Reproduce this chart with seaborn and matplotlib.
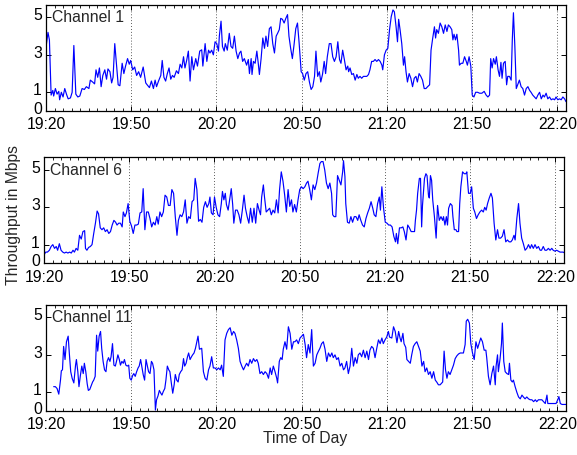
import numpy as np
import pandas as pd
import matplotlib
matplotlib.use("Agg")
import matplotlib.pyplot as plt
from matplotlib.ticker import MultipleLocator
from matplotlib.transforms import ScaledTranslation
import seaborn as sns

# Minutes after 19:20 and measured throughput (Mbps) for each channel
t1 = [0.0, 0.7, 1.2, 1.8, 2.4, 2.7, 3.3, 3.9, 4.5, 4.8, 5.4, 6.0, 6.6, 7.2, 7.8, 8.6, 9.2, 9.8, 10.5, 11.2,
      11.9, 12.7, 13.5, 14.2, 15.1, 15.6, 16.4, 17.1, 17.6, 18.2, 18.8, 19.4, 20.0, 20.7, 21.3, 21.8, 22.5, 23.1,
      23.6, 24.2, 24.8, 25.4, 26.0, 26.8, 27.4, 28.0, 28.7, 29.3, 29.8, 30.5, 31.2, 31.9, 32.6, 33.3, 34.2, 35.1,
      35.6, 36.4, 37.1, 37.8, 38.4, 38.9, 39.6, 40.4, 40.9, 41.5, 42.1, 42.7, 43.3, 43.9, 44.5, 45.1, 45.9, 46.6,
      47.2, 47.8, 48.4, 48.9, 49.5, 50.1, 50.7, 51.3, 51.9, 52.7, 53.3, 54.1,
      54.8, 55.2, 56.0, 56.6, 57.2, 57.7, 58.3, 58.9, 59.5, 60.1, 60.7, 61.0, 61.6, 62.1, 62.7, 63.1, 63.8,
      64.5, 65.1, 65.7, 66.3, 66.9, 67.5, 68.1, 68.6, 69.2, 69.8, 70.6, 71.2, 71.6, 72.2, 72.5, 73.0, 73.6, 74.2,
      74.7, 75.1, 75.7, 76.3, 76.9, 77.4, 78.0, 78.6, 79.2, 79.8, 80.4, 81.0, 81.5, 82.1, 82.6, 83.2, 83.8, 84.4,
      85.0, 85.5, 86.1, 86.7, 87.3, 87.9, 88.5, 89.1, 89.8, 90.3, 90.9, 91.5, 92.1, 92.7, 93.3, 93.9, 94.5, 95.0,
      95.6, 96.2, 96.7, 97.3, 97.9, 98.4, 99.0, 99.7, 100.3, 100.9, 101.5, 102.1, 102.7, 103.3, 103.8, 104.4,
      105.0, 105.6, 106.2, 106.5, 107.0, 107.6, 108.2, 108.8, 109.4, 109.9, 110.5, 111.1, 111.7, 112.9, 113.5,
      114.0, 114.6, 115.2, 115.8, 116.4, 117.0, 117.6, 118.2, 118.5, 119.1, 119.7, 120.3, 120.9,
      121.5, 122.1, 122.6, 123.2, 123.7, 124.1, 124.6, 125.2, 125.8, 126.2, 126.7, 127.2, 127.8, 128.4, 129.0,
      129.6, 130.2, 130.7, 131.3, 131.9, 132.5, 133.1, 133.7, 134.3, 135.0, 135.5, 136.1, 136.7, 137.1, 137.5,
      138.1, 138.7, 139.3, 139.9, 140.5, 141.1, 141.6, 142.2, 142.8, 143.2, 143.6, 144.1, 144.6, 145.2, 145.5,
      146.1, 146.7, 147.3, 147.9, 148.3, 148.9, 149.5, 150.0, 150.6, 151.2, 151.9, 152.6, 153.4, 154.2, 154.9,
      155.5, 156.1, 156.5, 157.0, 157.5, 158.1, 158.5, 159.1, 159.6, 160.1, 160.5, 161.0, 161.6, 162.1, 162.5,
      163.1, 163.7, 164.1, 164.5, 165.0, 165.5, 166.0, 166.6, 167.2, 167.8, 168.4, 169.0, 169.6, 170.2, 170.7,
      171.3, 171.9, 172.5, 173.1, 173.7, 174.3, 174.9, 175.4, 176.0, 176.6, 177.2, 177.8, 178.4, 179.0, 179.5,
      180.1, 180.7, 181.3, 181.9, 182.5, 183.0]
v1 = [3.4, 4.2, 3.8, 0.85, 1.1, 0.8, 1.2, 0.9, 1.05, 0.6, 1.0, 0.75, 1.2, 0.9, 0.65, 0.7, 1.0, 3.5, 0.9, 0.75,
      0.8, 1.2, 1.15, 1.3, 1.2, 1.65, 1.55, 1.45, 2.2, 1.8, 2.3, 1.3, 1.9, 2.2, 1.7, 2.25, 2.1, 1.5,
      1.8, 3.6, 2.5, 1.4, 1.35, 2.55, 2.0, 2.4, 2.8, 2.5, 2.7, 2.2, 2.35, 1.9, 2.1, 1.8, 2.35, 1.5,
      1.4, 1.25, 1.6, 1.2, 1.65, 1.3, 1.6, 1.9, 2.7, 1.8, 1.6, 2.0, 2.3, 1.7, 1.9, 1.8, 2.15, 2.0,
      2.5, 2.3, 2.9, 2.3, 2.7, 3.2, 1.6, 2.9, 2.2, 2.8, 2.4, 3.2,
      3.27, 2.4, 3.6, 2.65, 3.25, 3.1, 3.25, 3.0, 3.7, 3.6, 3.2, 4.0, 4.8, 3.45, 3.2, 3.6, 3.25,
      4.15, 3.45, 3.35, 4.0, 3.2, 2.8, 3.1, 3.2, 2.65, 2.8, 2.45, 2.75, 2.0, 2.8, 1.95, 2.65, 2.55, 3.2,
      2.55, 1.95, 2.8, 3.9, 3.35, 4.0, 3.45, 4.4, 4.5, 3.6, 3.1, 4.0, 4.15, 4.35, 4.95, 4.9, 4.7, 4.95,
      5.15, 4.0, 3.35, 2.8, 3.55, 4.4, 4.7, 3.6, 2.1, 2.0, 1.65, 2.0, 2.1, 1.55, 1.15, 1.3, 1.85, 3.2,
      1.85, 2.1, 1.55, 1.95, 2.65, 2.0, 2.9, 3.6, 3.6, 2.9, 2.65, 2.9, 3.7, 2.75, 2.55, 3.25,
      2.75, 2.2, 2.4, 2.1, 2.3, 1.95, 2.0, 1.65, 1.95, 1.75, 1.85, 1.75, 1.85, 1.85, 1.95,
      2.2, 2.65, 2.65, 2.75, 2.65, 2.75, 2.65, 2.45, 2.2, 3.0, 3.25, 3.35, 4.35,
      5.05, 5.4, 5.3, 4.5, 3.7, 4.9, 4.35, 3.6, 2.45, 2.9, 2.1, 1.55, 2.0, 1.75, 1.3,
      1.75, 1.85, 1.55, 2.0, 1.85, 1.65, 1.2, 1.2, 1.3, 1.4, 3.25, 3.9, 4.5, 3.9, 4.35,
      4.15, 4.7, 4.5, 4.15, 4.6, 4.25, 4.6, 4.5, 4.35, 3.8, 4.1, 3.8, 4.1, 3.25, 2.45,
      2.55, 2.55, 2.9, 2.65, 2.45, 2.9, 2.4, 0.85, 0.75, 1.0, 1.0, 0.95, 0.95, 1.05, 0.85,
      0.75, 0.85, 2.8, 2.3, 2.8, 2.5, 2.9, 2.2, 1.85, 2.6, 1.75, 2.55, 2.65, 1.4, 1.85,
      1.85, 1.65, 3.8, 5.25, 3.45, 1.2, 1.4, 1.65, 1.3, 1.2, 0.85, 1.2, 1.3, 1.1, 1.0,
      0.85, 0.75, 0.65, 0.85, 1.0, 0.65, 0.85, 0.75, 0.95, 0.65, 0.75, 0.6, 0.65, 0.6, 0.75,
      0.6, 0.65, 0.6, 0.75, 0.65, 0.5]

t6 = [0.0, 0.6, 1.2, 1.9, 2.5, 3.1, 3.7, 4.3, 4.8, 5.4, 6.0, 6.6, 7.2, 7.8, 8.4, 9.0, 9.6, 10.2, 10.7, 11.3,
      11.9, 12.5, 13.1, 13.7, 14.3, 14.6, 15.1, 15.7, 16.3, 16.9, 17.5, 18.1, 18.7, 19.2, 19.8, 20.4, 21.0, 21.6,
      22.2, 22.8, 23.4, 24.0, 24.6, 25.2, 25.7, 26.3, 26.9, 27.5, 27.9, 28.5, 29.0, 29.6, 30.2, 30.8, 31.4, 32.0,
      32.6, 33.2, 33.8, 34.4, 34.9, 35.5, 36.1, 36.7, 37.3, 37.9, 38.5, 39.1, 39.7, 40.2, 40.8, 41.4, 42.0, 42.6,
      43.2, 43.8, 44.4, 45.0, 45.6, 46.2, 46.8, 47.3, 47.9, 48.5, 49.1, 49.7, 50.3, 50.9, 51.5, 52.1, 52.7, 53.2,
      53.8, 54.4, 55.0,
      55.6, 56.2, 56.8, 57.4, 58.0, 58.4, 58.9, 59.5, 60.0, 60.6, 61.2, 61.8, 62.4, 62.8, 63.3, 63.8, 64.2, 64.8,
      65.4, 65.9, 66.4, 66.8, 67.4, 68.0, 68.6, 69.2, 69.8, 70.4, 70.9, 71.5, 72.1, 72.7, 73.3, 73.9, 74.5, 75.1,
      75.7, 76.2, 76.6, 77.2, 77.6, 78.2, 78.8, 79.4, 80.0, 80.6, 81.2, 81.8, 82.4, 82.9, 83.5, 84.1, 84.7, 85.3,
      85.9, 86.5, 87.1, 87.6, 88.2, 88.8, 89.4, 90.0, 90.6, 91.2, 91.8, 92.4, 92.9, 93.5, 94.1, 94.7, 95.3, 95.9,
      96.5, 97.1, 97.6, 98.2, 98.8, 99.4, 100.0, 100.6, 101.2, 101.6, 102.1, 102.7, 103.3, 103.9, 104.5, 105.1,
      105.4, 105.9, 106.2, 106.8, 107.4, 108.0, 108.6, 109.2, 109.8, 110.4, 110.9, 111.5, 112.1, 112.7, 113.3,
      113.9, 114.5, 115.1, 115.7, 116.2, 116.8, 117.4, 118.0, 118.4, 118.9, 119.5, 120.1, 120.7, 121.3, 121.9,
      122.5, 123.1, 123.7, 124.0, 124.5, 125.1, 125.7, 126.3, 126.8, 127.4, 128.0, 128.6, 129.2, 129.8, 130.4,
      130.7, 131.1, 131.5, 132.1, 132.5, 132.9, 133.2, 133.9, 134.4, 134.8, 135.3, 135.6, 136.0, 136.4, 136.8,
      137.4, 138.0, 138.5, 139.1, 139.7, 140.3, 140.6, 141.1, 141.6, 142.0, 142.4, 143.0, 143.6, 143.9, 144.4,
      145.0, 145.3, 145.9, 146.3, 146.7, 147.3, 147.9, 148.5, 148.8, 149.4, 150.0, 150.5, 151.1, 151.6, 152.2,
      152.8, 153.4, 154.0, 154.6, 155.1, 155.6, 156.1, 156.7, 157.3, 157.8, 158.4, 159.0, 159.6, 160.1, 160.7,
      161.3, 161.9, 162.5, 163.1, 163.7, 164.3, 164.8, 165.4, 165.8, 166.4, 167.0, 167.5, 168.1, 168.7, 169.3,
      169.9, 170.5, 171.1, 171.6, 172.2, 172.8, 173.4, 174.0, 174.6, 175.1, 175.7, 176.3, 176.9, 177.5, 178.1,
      178.7, 179.2, 179.8, 180.4, 181.0, 181.6, 182.2, 182.7, 183.3]
v6 = [0.45, 0.6, 0.6, 0.7, 0.9, 1.0, 0.8, 0.9, 0.7, 1.05, 0.7, 0.6, 0.55, 0.6, 0.55, 0.6, 0.55, 0.7, 0.6, 0.8,
      0.7, 1.5, 1.3, 1.7, 1.75, 0.8, 0.7, 0.85, 0.9, 1.0, 1.6, 2.15, 2.8, 2.65, 1.9, 1.8, 1.9, 1.7,
      1.8, 1.6, 1.7, 2.05, 2.3, 2.2, 2.05, 2.15, 2.15, 1.95, 2.75, 2.5, 2.7, 3.2, 2.25, 2.0, 1.6, 2.05,
      2.05, 2.1, 2.7, 2.75, 4.0, 1.8, 2.75, 2.75, 2.4, 1.95, 2.2, 2.05, 2.5, 2.1, 2.75, 2.5, 2.75, 3.65,
      3.55, 3.1, 3.1, 3.95, 3.75, 2.5, 1.5, 2.3, 2.6, 2.5, 2.75, 3.4, 2.15, 2.5, 2.4, 3.3, 3.4, 4.55,
      3.95, 2.25, 2.35,
      2.2, 3.0, 3.3, 3.0, 3.2, 3.55, 2.7, 2.6, 3.55, 3.0, 2.6, 2.5, 3.2, 3.85, 3.4, 3.75, 3.15, 2.85,
      3.5, 4.0, 3.15, 2.15, 2.85, 2.85, 2.6, 2.15, 2.85, 3.65, 2.95, 2.5, 2.15, 2.95, 2.2, 2.95, 2.15, 3.2,
      2.85, 2.6, 3.55, 4.2, 3.55, 2.75, 2.85, 2.95, 2.6, 2.85, 2.7, 3.4, 2.7, 3.95, 4.9, 4.4, 3.65, 2.75,
      3.95, 3.05, 3.4, 2.75, 3.15, 2.75, 3.4, 3.95, 4.1, 4.0, 4.1, 4.3, 4.4, 3.95, 3.4, 4.2, 3.95, 4.3,
      4.85, 5.35, 5.45, 5.45, 5.0, 4.3, 4.0, 4.3, 3.75, 2.6, 2.5, 2.5, 4.7, 4.45, 4.2, 4.9,
      5.5, 4.65, 3.2, 2.2, 2.15, 2.5, 2.2, 2.5, 2.5, 2.3, 2.6, 2.3, 2.05, 1.95, 2.4,
      2.7, 2.95, 3.3, 2.95, 2.6, 2.5, 3.2, 3.55, 2.85, 4.1, 2.95, 2.2, 2.15, 2.05, 2.05,
      1.95, 1.45, 1.15, 1.6, 1.05, 1.9, 1.9, 1.95, 1.7, 1.25, 2.05, 1.9, 1.7, 1.7, 1.7,
      2.3, 2.85, 3.75, 4.55, 4.55, 1.95, 3.1, 4.55, 4.8, 4.7, 3.65, 3.5, 4.7, 4.45, 3.4,
      2.5, 1.35, 3.1, 2.3, 2.5, 2.3, 2.5, 2.05, 2.5, 2.05, 2.95, 3.2, 3.1, 2.5, 1.8,
      1.8, 1.7, 1.7, 3.2, 4.1, 4.9, 4.8, 4.8, 4.9, 3.75, 3.75, 4.1, 2.95, 2.75, 2.4,
      2.6, 2.75, 2.85, 2.75, 3.0, 2.85, 3.2, 3.5, 3.75, 3.5, 2.15, 1.25, 1.8, 1.35, 1.35,
      1.45, 1.8, 1.15, 1.25, 1.15, 1.15, 1.25, 1.5, 1.25, 2.4, 3.2, 2.15, 1.35, 1.05, 0.7,
      0.8, 1.0, 0.8, 1.0, 0.8, 1.0, 0.8, 0.9, 0.7, 0.7, 0.9, 0.7, 0.7, 0.8, 0.7,
      0.8, 0.7, 0.65, 0.7, 0.65, 0.6, 0.6, 0.6, 0.55]

t11 = [2.7, 3.3, 3.9, 4.5, 5.1, 5.4, 5.8, 6.2, 6.7, 7.2, 7.8, 8.2, 8.7, 9.2, 9.8, 10.4, 10.7, 11.2, 11.6, 12.1,
       12.6, 13.1, 13.5, 14.0, 14.5, 14.9, 15.4, 15.9, 16.4, 16.8, 17.3, 17.8, 18.2, 18.7, 19.2, 19.6, 20.1,
       20.6, 21.1, 21.5, 22.0, 22.5, 22.9, 23.4, 23.9, 24.4, 24.8, 25.3, 25.8, 26.2, 26.7, 27.2, 27.6, 28.1,
       28.6, 29.1, 29.5, 30.0, 30.5, 30.9, 31.4, 31.9, 32.4, 32.8, 33.3, 33.8, 34.2, 34.7, 35.2, 35.6, 36.1,
       36.6, 37.1, 37.5, 38.0, 38.5, 38.9, 39.4, 39.9, 40.4, 40.8, 41.3, 41.8, 42.2, 42.7, 43.2, 43.6, 44.1,
       44.6, 45.1, 45.5, 46.0, 46.5, 46.9, 47.4, 47.9, 48.4, 48.8, 49.3, 49.8, 50.2, 50.7, 51.2, 51.6, 52.1,
       52.6, 53.1, 53.5, 54.0,
       54.8, 55.4, 56.0, 56.6, 57.2, 57.7, 58.3, 58.9, 59.5, 60.1, 60.7, 61.3, 61.8, 62.4, 63.0, 63.6, 64.2,
       64.8, 65.4, 66.0, 66.5, 67.1, 67.7, 68.3, 68.9, 69.5, 70.1, 70.6, 71.2, 71.8, 72.4, 73.0, 73.6, 74.2,
       74.7, 75.3, 75.9, 76.5, 77.1, 77.7, 78.3, 78.9, 79.4, 80.0, 80.6, 81.2, 81.5, 82.1, 82.6, 83.1, 83.5,
       84.1, 84.7, 85.3, 85.9, 86.5, 87.1, 87.6, 88.2, 88.8, 89.4, 90.0, 90.6, 91.2, 91.7, 92.3, 92.9, 93.5,
       94.1, 94.7, 95.3, 95.9, 96.4, 97.0, 97.6, 98.2, 98.8, 99.4, 100.0, 100.6, 101.1, 101.7, 102.3, 102.9,
       103.5, 104.1, 104.7, 105.2, 105.8, 106.4, 107.0, 107.6, 108.2, 108.8, 109.4, 109.9, 110.5, 111.1,
       111.7, 112.3, 112.9, 113.5, 114.0, 114.6, 115.2, 115.8, 116.4, 117.0, 117.6, 118.2, 118.7, 119.3,
       119.9, 120.5, 120.9,
       121.7, 122.3, 122.9, 123.5, 124.1, 124.6, 125.0, 125.6, 126.0, 126.6, 127.0, 127.6, 128.2, 128.7,
       129.3, 129.9, 130.5, 131.1, 131.7, 132.3, 132.9, 133.4, 134.0, 134.6, 135.2, 135.8, 136.4, 137.0,
       137.5, 138.1, 138.7, 139.3, 139.6, 140.1, 140.6, 141.1, 141.6, 142.2, 142.8, 143.4, 144.0, 144.6,
       145.2, 145.8, 146.3, 146.9, 147.5, 147.9, 148.4, 149.0, 149.5, 150.1, 150.7, 151.3, 151.9, 152.4,
       153.0, 153.6, 154.2, 154.8, 155.1, 155.7, 156.3, 156.9, 157.5, 158.1, 158.4, 158.9, 159.2, 159.8,
       160.3, 160.6, 161.1, 161.6, 162.2, 162.8, 163.1, 163.6, 164.1, 164.5, 165.1, 165.7, 166.3, 166.9,
       167.5, 168.0, 168.6, 169.2, 169.8, 170.4, 171.0, 171.6, 172.2, 172.7, 173.3, 173.9, 174.5, 175.1,
       175.7, 176.3, 176.6, 177.2, 177.8, 178.4, 179.0, 179.5, 180.1, 180.5, 181.0, 181.6, 182.2, 182.8, 183.1]
v11 = [1.3, 1.3, 1.2, 0.9, 1.65, 2.15, 2.2, 3.45, 2.75, 3.7, 4.0, 3.1, 2.1, 1.75, 1.5, 2.45, 2.75, 2.1, 1.3, 1.9,
       2.4, 2.0, 2.55, 2.1, 1.45, 1.1, 1.15, 1.35, 1.55, 1.65, 1.85, 4.05, 3.2, 4.0, 4.25, 3.35, 2.65,
       2.2, 2.1, 2.65, 2.85, 2.65, 2.9, 3.6, 2.45, 2.4, 2.65, 3.0, 2.75, 2.45, 2.65, 2.55, 2.75, 2.45,
       2.4, 2.45, 1.75, 1.65, 1.9, 2.0, 1.85, 2.1, 2.3, 2.4, 2.75, 2.3, 1.95, 1.65, 2.75, 2.45, 2.1,
       2.0, 2.65, 2.55, 2.2, 0.05, 0.6, 0.8, 1.1, 0.95, 0.85, 1.05, 1.2, 1.65, 2.4, 2.2, 2.1, 1.5,
       0.95, 1.4, 1.95, 1.65, 1.55, 1.95, 2.1, 2.2, 2.8, 2.4, 2.55, 2.9, 3.1, 2.75, 2.9, 3.0, 3.1,
       3.35, 3.7, 4.0, 3.3,
       3.35, 2.1, 1.75, 1.65, 2.2, 2.4, 2.9, 2.3, 2.3, 2.2, 2.3, 2.2, 2.45, 1.85, 3.8, 4.15, 4.35,
       4.45, 4.05, 4.25, 4.15, 3.8, 3.35, 2.65, 2.4, 2.2, 2.4, 2.55, 2.4, 2.75, 2.55, 2.8, 2.65, 2.75,
       2.55, 2.0, 2.1, 1.95, 2.1, 2.0, 1.75, 2.3, 1.95, 2.4, 2.1, 1.75, 1.5, 2.65, 2.85, 2.75, 3.3,
       3.7, 3.3, 4.5, 4.15, 3.3, 3.7, 3.7, 3.8, 3.6, 3.9, 4.0, 4.1, 3.55, 2.85, 3.55, 3.1, 4.35,
       2.4, 2.55, 3.0, 3.2, 3.35, 3.6, 3.7, 3.3, 2.65, 3.1, 2.9, 3.1, 2.85, 3.0, 2.75, 2.85,
       2.4, 2.55, 2.2, 2.3, 2.65, 2.0, 2.4, 3.35, 2.4, 2.85, 2.55, 3.0, 3.1, 2.9,
       3.25, 2.85, 3.2, 2.75, 3.25, 3.45, 3.35, 2.85, 3.35, 3.8, 3.6, 3.9, 3.6, 3.8,
       3.95, 4.25, 3.95,
       3.9, 4.5, 4.25, 3.65, 4.25, 3.9, 3.7, 4.15, 3.6, 3.4, 2.75, 2.65, 2.55, 3.0,
       3.45, 3.6, 3.7, 3.45, 3.2, 2.4, 2.65, 2.1, 2.3, 1.95, 2.1, 1.75, 2.1, 1.65,
       1.55, 1.4, 1.4, 1.5, 1.55, 3.2, 2.2, 1.75, 2.1, 1.95, 2.2, 2.45, 2.8, 2.95,
       3.05, 3.1, 3.1, 3.1, 3.55, 4.8, 4.9, 4.7, 3.6, 3.1, 2.75, 3.7, 3.35, 3.6,
       3.9, 3.7, 3.25, 3.25, 2.85, 1.85, 1.4, 2.0, 2.4, 1.4, 2.4, 3.0, 2.1, 2.8,
       3.6, 4.7, 2.65, 2.1, 2.0, 1.95, 2.55, 1.65, 1.55, 1.65, 1.3, 1.0, 0.75, 0.65,
       0.85, 0.75, 0.65, 0.75, 0.65, 0.6, 0.6, 0.5, 0.6, 0.5, 0.6, 0.6, 0.6, 0.5,
       0.4, 0.85, 0.4, 0.4, 0.4, 0.4, 0.4, 0.4, 0.6, 0.77, 0.4, 0.35, 0.35, 0.35, 0.35]

channels = ["Channel 1", "Channel 6", "Channel 11"]
series = [(t1, v1), (t6, v6), (t11, v11)]
tick_minutes = [0, 30, 60, 90, 120, 150, 180]
tick_labels = ["19:20", "19:50", "20:20", "20:50", "21:20", "21:50", "22:20"]
y_ticks = [0, 1, 3, 5]

sns.set_style("ticks")
plt.rcParams["font.family"] = ["Liberation Sans", "DejaVu Sans"]
FS = 11.3

W, H = 577, 455
fig = plt.figure(figsize=(W / 100, H / 100), dpi=100)

# axes boxes in pixels: left, top, right, bottom
boxes = [(46, 4.7, 566, 111), (44, 157.3, 564, 263.3), (46, 304.7, 566, 411)]
lift = ScaledTranslation(0, 3 / 100, fig.dpi_scale_trans)

for (name, (t, v), (l, tp, r, b)) in zip(channels, series, boxes):
    ax = fig.add_axes([l / W, 1 - b / H, (r - l) / W, (b - tp) / H])
    df = pd.DataFrame({"minute": t, "mbps": v})
    sns.lineplot(data=df, x="minute", y="mbps", ax=ax, color="#0000ff",
                 linewidth=0.85, estimator=None, sort=False)
    ax.set_xlim(0, 183)
    ax.set_ylim(0, 5.68)
    ax.set_xticks(tick_minutes)
    ax.set_xticklabels(tick_labels)
    ax.set_yticks(y_ticks)
    ax.xaxis.set_minor_locator(MultipleLocator(3))
    ax.tick_params(which="both", direction="in", top=True, right=True,
                   labelsize=FS, colors="black")
    ax.tick_params(axis="x", which="major", pad=4.5)
    ax.tick_params(axis="y", which="major", pad=3)
    ax.tick_params(which="major", length=3.5, width=0.7)
    ax.tick_params(which="minor", length=2, width=0.6)
    # y labels sit slightly above their ticks
    for lab in ax.get_yticklabels():
        lab.set_transform(lab.get_transform() + lift)
    ax.set_xlabel("")
    ax.set_ylabel("")
    for x in tick_minutes[1:]:
        ax.axvline(x, color="0.15", linestyle=(0, (1, 2.5)), linewidth=0.6, zorder=0)
    for s in ax.spines.values():
        s.set_linewidth(0.9)
        s.set_color("black")
    ax.text(0.012, 0.875, name, transform=ax.transAxes, fontsize=FS,
            va="center", ha="left")

fig.text(14 / W, 1 - 215 / H, "Throughput in Mbps", rotation=90,
         ha="center", va="center", fontsize=FS)
fig.text(305 / W, 1 - 439 / H, "Time of Day", ha="center", va="center", fontsize=FS)

fig.savefig("out.png", dpi=100)
